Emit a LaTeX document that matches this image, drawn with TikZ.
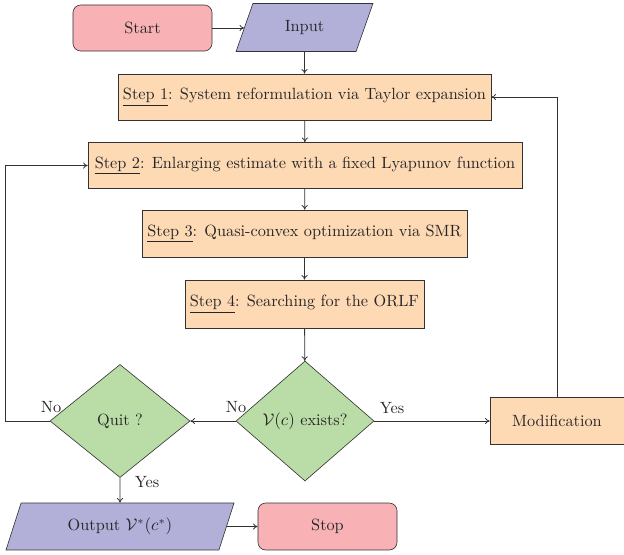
\documentclass[tikz,border=0pt]{standalone}
\usetikzlibrary{shapes.geometric,arrows.meta}
\definecolor{termfill}{RGB}{248,177,181}
\definecolor{iofill}{RGB}{178,176,216}
\definecolor{stepfill}{RGB}{253,217,180}
\definecolor{decfill}{RGB}{186,221,168}
\begin{document}
\begin{tikzpicture}[x=0.645pt,y=-0.645pt,
  every node/.style={inner sep=2pt, text=black!85, font=\fontsize{10.5}{12.6}\selectfont},
  term/.style={draw=black!80, fill=termfill, rounded corners=5pt, minimum width=89.7pt, minimum height=29.7pt},
  io/.style={draw=black!80, fill=iofill, trapezium, trapezium left angle=70, trapezium right angle=110, trapezium stretches=true, minimum height=31pt},
  stepbox/.style={draw=black!80, fill=stepfill, minimum height=29.7pt},
  decision/.style={draw=black!80, fill=decfill, diamond, inner sep=0pt},
  conn/.style={draw=black!80, line width=0.5pt, -{To[length=3pt,width=4pt]}},
  lab/.style={inner sep=0pt}
]
\useasboundingbox (0,0) rectangle (624,554);
\node[term] (start) at (142.5,28) {Start};
\node[io, minimum width=88.4pt] (input) at (304.5,27.5) {Input};
\node[stepbox, minimum width=240.6pt] (s1) at (304.5,97) {\underline{Step 1}: System reformulation via Taylor expansion};
\node[stepbox, minimum width=279.9pt] (s2) at (305,165.5) {\underline{Step 2}: Enlarging estimate with a fixed Lyapunov function};
\node[stepbox, minimum width=209.6pt, minimum height=30.3pt] (s3) at (304.5,233.5) {\underline{Step 3}: Quasi-convex optimization via SMR};
\node[stepbox, minimum width=154.2pt, minimum height=31pt] (s4) at (304.5,304) {\underline{Step 4}: Searching for the ORLF};
\node[decision, minimum width=89pt, minimum height=77.4pt] (vc) at (305,421) {$\mathcal{V}(c)$ exists?};
\node[decision, minimum width=90.3pt, minimum height=72.9pt] (quit) at (120,421) {Quit ?};
\node[stepbox, minimum width=86.4pt, minimum height=30.3pt] (mod) at (557,421) {Modification};
\node[io, minimum width=147.7pt, minimum height=30.3pt] (out) at (120,526.5) {Output $\mathcal{V}^{*}(c^{*})$};
\node[term, minimum height=30.3pt] (stop) at (327.5,526.5) {Stop};
\coordinate (lt) at (5,421);
\coordinate (rt) at (557,97);

\draw[conn] (start.east) -- (start.east -| input.west);
\draw[conn] (input.south) -- (s1.north);
\draw[conn] (s1) -- (s2);
\draw[conn] (s2) -- (s3);
\draw[conn] (s3) -- (s4);
\draw[conn] (s4) -- (vc);
\draw[conn] (vc.west) -- (quit.east);
\draw[conn] (vc.east) -- (mod.west);
\draw[conn] (mod.north) -- (rt) -- (s1.east);
\draw[conn] (quit.west) -- (lt) |- (s2.west);
\draw[conn] (quit.south) -- (out.north);
\draw[conn] (out.east) -- (stop.west);

\node[lab] (nq) at (51,407) {No};
\node[lab] (nv) at (236,407) {No};
\node[lab] (yv) at (392,408) {Yes};
\node[lab] (yq) at (147,482) {Yes};
\end{tikzpicture}
\end{document}
